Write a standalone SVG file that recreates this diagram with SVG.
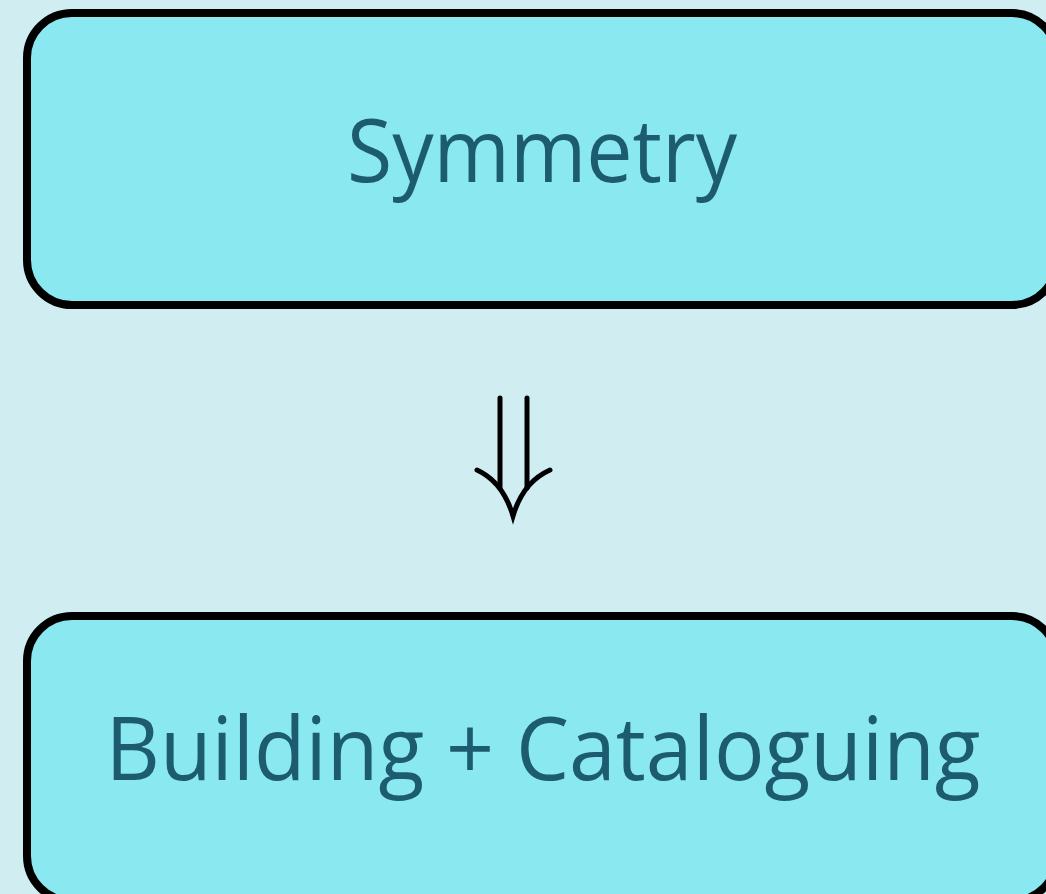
<svg xmlns="http://www.w3.org/2000/svg" width="1046" height="894" viewBox="0 0 1046 894">
  <style>
    .box { fill: #8AE8F0; stroke: #000; stroke-width: 8; }
    .label { font-family: "Open Sans", "Liberation Sans", sans-serif; font-size: 88px; fill: #1D5C70; text-anchor: middle; }
    .arrow { fill: none; stroke: #000; stroke-width: 5; stroke-linecap: round; }
  </style>
  <rect x="0" y="0" width="1046" height="894" fill="#D0EEF2"/>
  <g id="symmetry">
    <rect class="box" x="27" y="13" width="1030" height="292" rx="45" ry="45"/>
    <text class="label" x="542" y="182" textLength="390" lengthAdjust="spacingAndGlyphs">Symmetry</text>
  </g>
  <g id="building-cataloguing">
    <rect class="box" x="27" y="616" width="1030" height="285" rx="45" ry="45"/>
    <text class="label" x="543" y="780" textLength="875" lengthAdjust="spacingAndGlyphs">Building + Cataloguing</text>
  </g>
  <g id="connectors">
    <path class="arrow" d="M500,398 V488 M527,398 V488"/>
    <path class="arrow" d="M477,470 Q503,482 513,516 Q523,482 550,470"/>
  </g>
</svg>
